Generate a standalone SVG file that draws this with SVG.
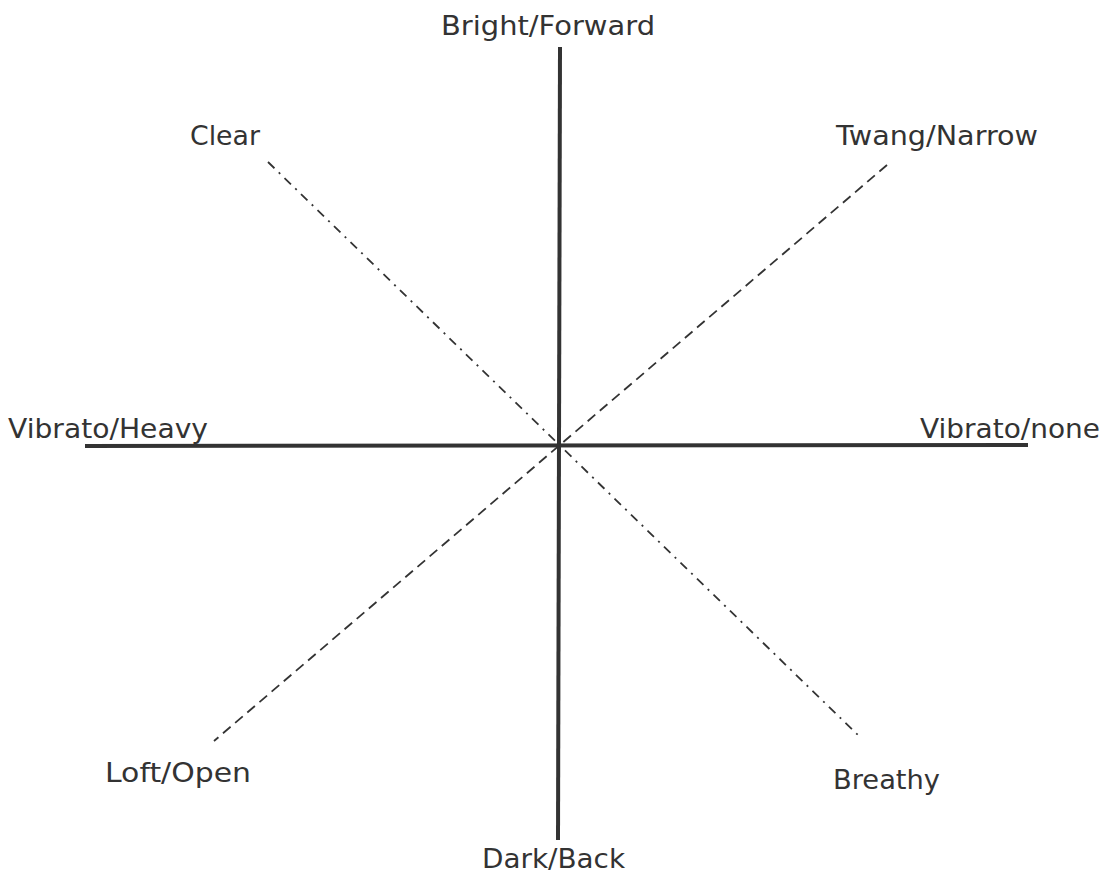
<svg xmlns="http://www.w3.org/2000/svg" width="1103" height="875" viewBox="0 0 1103 875">
<style>
.lbl{font-family:"DejaVu Sans","Liberation Sans",sans-serif;font-size:27px;fill:#333}
.axis{stroke:#333;stroke-width:4;fill:none}
.dd{stroke:#333;stroke-width:1.8;fill:none;stroke-dasharray:9 6 2 6}
.dash{stroke:#333;stroke-width:1.8;fill:none;stroke-dasharray:10 6}
</style>
<rect width="1103" height="875" fill="#fff"/>
<g id="connectors">
<line class="axis" x1="560" y1="47" x2="558" y2="840"/>
<line class="axis" x1="85" y1="446" x2="1028" y2="445"/>
<line class="dd" x1="268" y1="162" x2="860" y2="737"/>
<line class="dash" x1="887" y1="165" x2="214" y2="741"/>
</g>
<g id="n-bright"><text class="lbl" x="441" y="35" textLength="214" lengthAdjust="spacingAndGlyphs">Bright/Forward</text></g>
<g id="n-clear"><text class="lbl" x="190" y="145" textLength="70" lengthAdjust="spacingAndGlyphs">Clear</text></g>
<g id="n-twang"><text class="lbl" x="836" y="145" textLength="202" lengthAdjust="spacingAndGlyphs">Twang/Narrow</text></g>
<g id="n-vheavy"><text class="lbl" x="8" y="438" textLength="200" lengthAdjust="spacingAndGlyphs">Vibrato/Heavy</text></g>
<g id="n-vnone"><text class="lbl" x="920" y="438" textLength="180" lengthAdjust="spacingAndGlyphs">Vibrato/none</text></g>
<g id="n-loft"><text class="lbl" x="105" y="782" textLength="146" lengthAdjust="spacingAndGlyphs">Loft/Open</text></g>
<g id="n-breathy"><text class="lbl" x="833" y="789" textLength="107" lengthAdjust="spacingAndGlyphs">Breathy</text></g>
<g id="n-dark"><text class="lbl" x="482" y="868" textLength="143" lengthAdjust="spacingAndGlyphs">Dark/Back</text></g>
</svg>
